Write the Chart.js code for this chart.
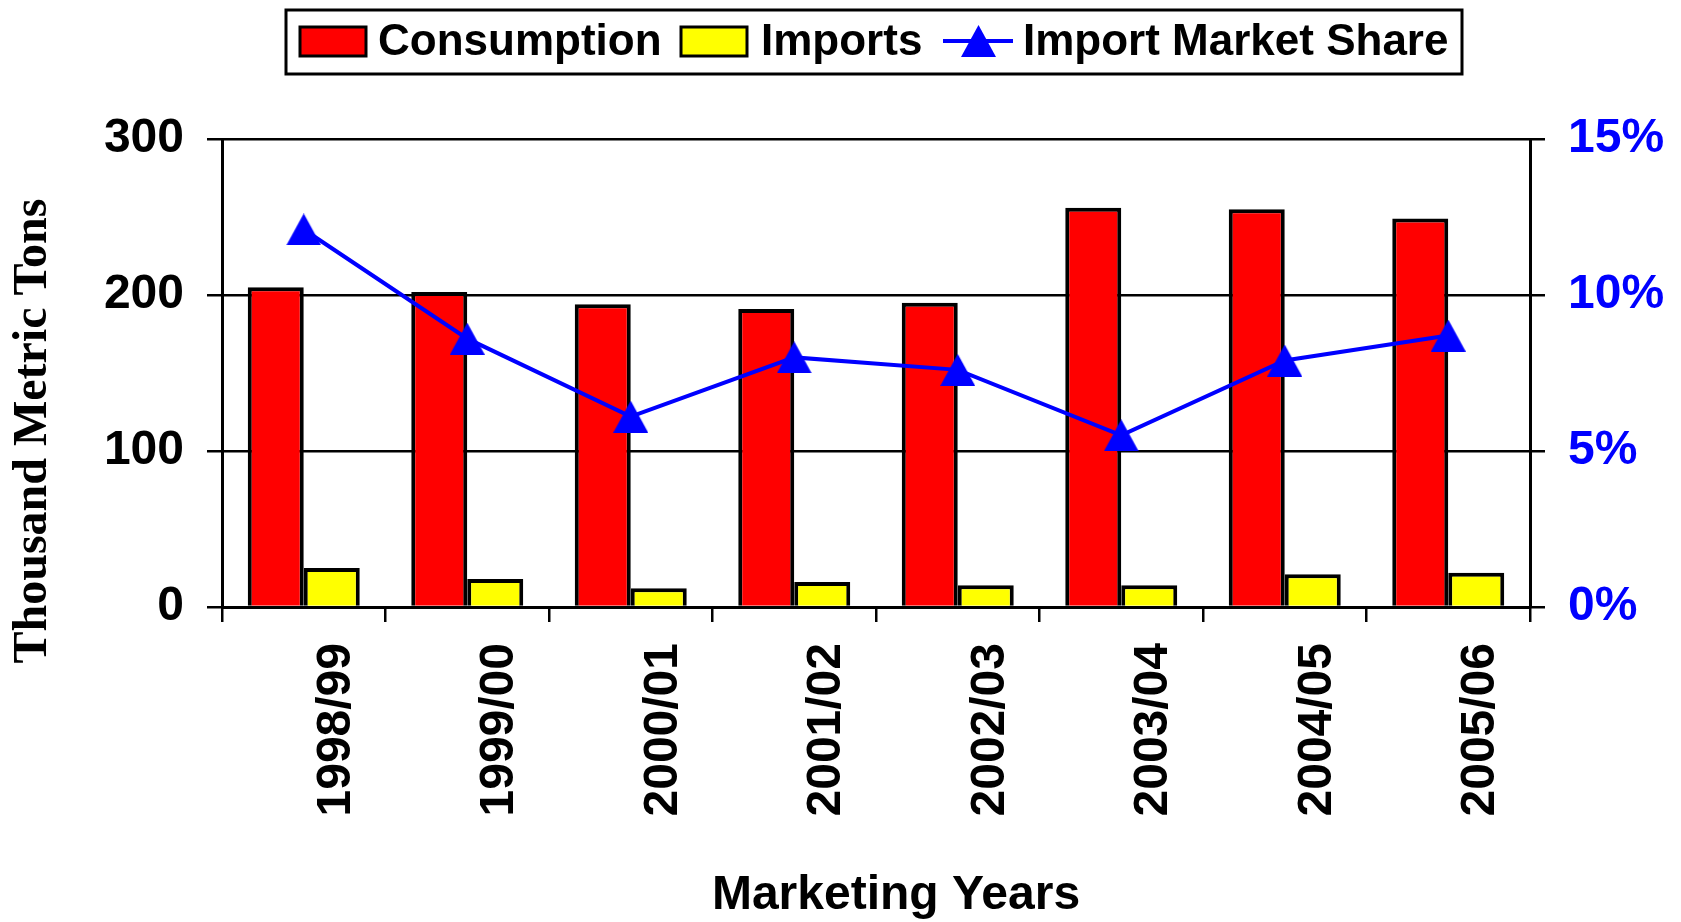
<!DOCTYPE html>
<html>
<head>
<meta charset="utf-8">
<script src="https://cdn.jsdelivr.net/npm/chart.js@4"></script>
<style>
  body { margin: 0; background: #fff; }
  #wrap { width: 1681px; height: 922px; }
</style>
</head>
<body>
<div id="wrap"><canvas id="myChart" width="1681" height="922"></canvas></div>
<script>
// data
const years = ['1998/99', '1999/00', '2000/01', '2001/02', '2002/03', '2003/04', '2004/05', '2005/06'];
const consumption = [205, 202, 194, 191, 195, 256, 255, 249];
const imports = [25, 18, 12, 16, 14, 14, 21, 22];
const importShare = [12.1, 8.6, 6.1, 8.0, 7.6, 5.5, 7.9, 8.7]; // percent
const leftTicks = [0, 100, 200, 300];
const rightTicks = [0, 5, 10, 15];

const sans = '"Liberation Sans", Arial, sans-serif';
const serif = '"Liberation Serif", "Times New Roman", serif';

// excel style triangle marker: apex on top, base on bottom, centred on the point
function makeTriangle(w, h) {
    const c = document.createElement('canvas');
    c.width = w;
    c.height = h;
    const g = c.getContext('2d');
    g.fillStyle = '#0000FF';
    g.beginPath();
    g.moveTo(w / 2, 0);
    g.lineTo(w, h);
    g.lineTo(0, h);
    g.closePath();
    g.fill();
    return c;
}
const tri = makeTriangle(35, 32);

// legend in a black box and the two axis titles, drawn by hand
const decor = {
    id: 'decor',
    afterDraw(chart) {
        const ctx = chart.ctx;
        const ds = chart.data.datasets;
        ctx.save();
        ctx.strokeStyle = '#000';
        ctx.lineWidth = 3;
        ctx.strokeRect(286, 10, 1176, 64);

        ctx.font = 'bold 44px ' + sans;
        ctx.fillStyle = '#000';
        ctx.textBaseline = 'middle';
        ctx.textAlign = 'left';

        // consumption
        ctx.fillStyle = ds[0].backgroundColor;
        ctx.fillRect(300, 27, 66, 29);
        ctx.strokeRect(300, 27, 66, 29);
        ctx.fillStyle = '#000';
        ctx.fillText(ds[0].label, 378, 43);

        // imports
        ctx.fillStyle = ds[1].backgroundColor;
        ctx.fillRect(681, 27, 66, 29);
        ctx.strokeRect(681, 27, 66, 29);
        ctx.fillStyle = '#000';
        ctx.fillText(ds[1].label, 761, 43);

        // market share line
        ctx.strokeStyle = ds[2].borderColor;
        ctx.lineWidth = 4;
        ctx.beginPath();
        ctx.moveTo(943, 41);
        ctx.lineTo(1013, 41);
        ctx.stroke();
        ctx.drawImage(tri, 978 - 17, 41 - 16);
        ctx.fillStyle = '#000';
        ctx.fillText(ds[2].label, 1023, 43);

        // x title
        ctx.textAlign = 'center';
        ctx.font = 'bold 48px ' + sans;
        ctx.fillText('Marketing Years', 896, 896);

        // y title
        ctx.translate(34, 431);
        ctx.rotate(-Math.PI / 2);
        ctx.font = 'bold 48px ' + serif;
        ctx.fillText('Thousand Metric Tons', 0, 0);
        ctx.restore();
    }
};

const ctx = document.getElementById('myChart').getContext('2d');
const myChart = new Chart(ctx, {
    type: 'bar',
    data: {
        labels: years,
        datasets: [{
            label: 'Consumption',
            data: consumption,
            backgroundColor: '#FF0000',
            borderColor: '#000',
            borderWidth: 4,
            yAxisID: 'y',
            order: 2
        }, {
            label: 'Imports',
            data: imports,
            backgroundColor: '#FFFF00',
            borderColor: '#000',
            borderWidth: 4,
            yAxisID: 'y',
            order: 2
        }, {
            type: 'line',
            label: 'Import Market Share',
            data: importShare,
            borderColor: '#0000FF',
            backgroundColor: '#0000FF',
            borderWidth: 4,
            pointStyle: tri,
            pointRadius: 17,
            tension: 0,
            yAxisID: 'y2',
            order: 1
        }]
    },
    options: {
        responsive: false,
        animation: false,
        categoryPercentage: 0.685,
        barPercentage: 1,
        layout: { padding: { top: 139, left: 0, right: 0, bottom: 0 } },
        plugins: {
            legend: { display: false },
            tooltip: { enabled: false }
        },
        scales: {
            x: {
                offset: true,
                grid: {
                    offset: true,
                    drawOnChartArea: false,
                    color: '#000',
                    lineWidth: 2.5,
                    tickLength: 15
                },
                border: { color: '#000', width: 3 },
                ticks: {
                    color: '#000',
                    font: { family: sans, size: 48, weight: 'bold' },
                    minRotation: 90,
                    maxRotation: 90,
                    padding: 21,
                    labelOffset: 33
                },
                afterFit(s) { s.height = 315; }
            },
            y: {
                position: 'left',
                min: 0,
                max: 300,
                afterBuildTicks(s) { s.ticks = leftTicks.map(v => ({ value: v })); },
                grid: { color: '#000', lineWidth: 2.5, tickLength: 15 },
                border: { color: '#000', width: 3 },
                ticks: {
                    color: '#000',
                    font: { family: sans, size: 48, weight: 'bold' },
                    padding: 23
                },
                afterFit(s) { s.width = 222; }
            },
            y2: {
                position: 'right',
                min: 0,
                max: 15,
                afterBuildTicks(s) { s.ticks = rightTicks.map(v => ({ value: v })); },
                grid: { drawOnChartArea: false, color: '#000', lineWidth: 2.5, tickLength: 15 },
                border: { color: '#000', width: 3 },
                ticks: {
                    color: '#0000FF',
                    font: { family: sans, size: 48, weight: 'bold' },
                    padding: 23,
                    callback: v => v + '%'
                },
                afterFit(s) { s.width = 151; }
            }
        }
    },
    plugins: [decor]
});
</script>
</body>
</html>
